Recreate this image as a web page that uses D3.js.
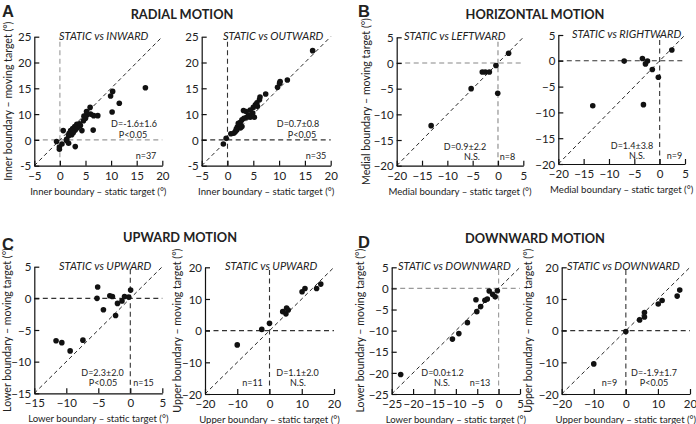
<!DOCTYPE html>
<html>
<head>
<meta charset="utf-8">
<script src="https://cdn.jsdelivr.net/npm/d3@7"></script>
<style>
  body { margin: 0; background: #fff; }
  text { font-family: Lato, "Open Sans", sans-serif; fill: #222; }
</style>
</head>
<body>
<svg id="fig" width="696" height="424"></svg>
<script>
"use strict";

// ---- values (static target vs moving target, degrees) ----
const inwardStatic = [16.7, 10.3, 9.9, 11.6, 10.2, 5.9, 5.2, 6.0, 6.6, 7.4, 5.0, 4.6, 3.8, 3.3, 4.0, 2.9, 2.5, 2.1, 3.0, 3.4,
  4.3, 6.5, 1.8, 2.3, 1.7, 0.65, -0.65, -0.1, -0.1, 0.4, 1.3, 1.7, 3.0, 2.6, 4.7, 5.2, 1.3];
const inwardMoving = [10.1, 9.4, 8.5, 7.1, 5.4, 6.3, 4.8, 5.0, 4.7, 4.7, 4.2, 3.7, 3.1, 3.0, 2.8, 2.6, 2.2, 1.8, 1.9, 2.3,
  1.8, 1.9, 1.3, 1.0, 0.8, 1.8, -0.3, -1.4, -1.8, -0.8, -0.1, -0.65, -1.3, 1.4, 4.6, 5.5, 0.1];

const outwardStatic = [16.5, 11.6, 10.2, 10.1, 9.7, 7.4, 6.3, 6.2, 5.7, 5.4, 5.0, 5.8, 4.4, 3.6, 3.1, 4.9, 4.4, 4.1, 5.2, 2.8,
  2.5, 2.3, 1.9, 1.8, 2.5, 1.5, 1.2, 0.65, -0.26, -0.8, 2.8, 3.7, 2.1, 3.2, 1.7];
const outwardMoving = [17.3, 11.6, 11.3, 11.0, 10.2, 8.9, 8.3, 7.8, 7.2, 6.8, 6.3, 6.5, 5.8, 5.5, 5.7, 5.2, 4.4, 4.8, 4.4, 3.9,
  3.4, 2.9, 2.5, 1.9, 2.3, 1.6, 1.3, 1.2, 0.3, -0.8, 2.6, 4.4, 3.2, 4.2, 2.1];

const leftwardStatic = [-13.2, -5.3, -3.1, -2.5, -1.7, -0.4, -0.05, 2.1];
const leftwardMoving = [-12.2, -5.0, -1.75, -1.75, -1.75, -0.5, -5.9, 1.9];

const rightwardStatic = [-13.2, -7.0, -3.4, -2.4, -2.8, -1.45, -0.26, -3.2, 2.4];
const rightwardMoving = [-8.7, -0.06, 0.45, -0.06, -0.6, -1.7, -3.2, -8.5, 2.1];

const upLowerStatic = [-5.1, -5.2, -3.2, -2.8, -4.2, -2.3, -2.0, -1.3, -0.9, -0.26, 0.05, -11.6, -10.7, -9.4, -7.4];
const upLowerMoving = [1.8, 0.0, 0.4, 0.3, -1.8, -2.7, -0.8, -0.4, 0.3, 0.2, 1.3, -6.7, -7.0, -8.3, -6.6];

const upUpperStatic = [-10.0, -2.4, 0.0, 4.1, 5.1, 5.3, 5.8, 10.1, 11.0, 14.6, 15.9];
const upUpperMoving = [-4.5, 0.4, 2.3, 6.0, 5.3, 7.1, 6.5, 12.3, 13.3, 13.3, 14.7];

const downLowerStatic = [-22.9, -10.8, -9.3, -7.3, -5.1, -4.2, -5.3, -3.2, -2.65, -2.2, -1.4, -0.8, -0.3];
const downLowerMoving = [-20.4, -12.0, -10.7, -8.1, -5.5, -4.3, -2.7, -2.8, -2.5, -0.6, -1.4, -2.0, -0.55];

const downUpperStatic = [-10.0, 0.0, 4.3, 5.8, 5.8, 10.1, 11.3, 16.0, 16.8];
const downUpperMoving = [-10.5, -0.3, 3.4, 4.3, 5.7, 8.4, 9.5, 10.9, 12.8];

// tick values and labels
const radialTicks = [-5, 0, 5, 10, 15, 20];
const radialYLabels = ["-5", "0", "10", "15", "20", "25"];   // as printed in the figure
const horizTicks = [-20, -15, -10, -5, 0, 5];
const upLowerTicks = [-15, -10, -5, 0, 5];
const wideTicks = [-20, -10, 0, 10, 20];
const downLowerTicks = [-25, -20, -15, -10, -5, 0, 5];

// texts
const panelLetters = ["A", "B", "C", "D"];
const panelHeaders = ["RADIAL MOTION", "HORIZONTAL MOTION", "UPWARD MOTION", "DOWNWARD MOTION"];
const inwardNotes = ["D=-1.6±1.6", "P<0.05", "n=37"];
const outwardNotes = ["D=0.7±0.8", "P<0.05", "n=35"];
const leftwardNotes = ["D=0.9±2.2", "N.S.", "n=8"];
const rightwardNotes = ["D=1.4±3.8", "N.S.", "n=9"];
const upLowerNotes = ["D=2.3±2.0", "P<0.05", "n=15"];
const upUpperNotes = ["D=1.1±2.0", "N.S.", "n=11"];
const downLowerNotes = ["D=0.0±1.2", "N.S.", "n=13"];
const downUpperNotes = ["D=-1.9±1.7", "P<0.05", "n=9"];

const svg = d3.select("#fig");
svg.append("rect").attr("width", 696).attr("height", 424).attr("fill", "#fff");

const panels = [
  { xs: inwardStatic, ys: inwardMoving, dom: [-5, 20], box: [34.3, 36.7, 162.3, 165.7], ticks: radialTicks, yLabels: radialYLabels,
    title: "STATIC vs INWARD", titleX: 59, xTitle: "Inner boundary – static target (°)", yTitle: "Inner boundary – moving target (°)",
    yTitleX: 8.5, zero: "#999", notes: inwardNotes, notePos: [[134, 127], [133, 138], [146, 159]] },
  { xs: outwardStatic, ys: outwardMoving, dom: [-5, 20], box: [201.7, 36.7, 330.7, 165.7], ticks: radialTicks, yLabels: radialYLabels,
    title: "STATIC vs OUTWARD", titleX: 223, xTitle: "Inner boundary – static target (°)", yTitle: null,
    zero: "#333", notes: outwardNotes, notePos: [[298, 127], [302, 138], [316, 159]] },
  { xs: leftwardStatic, ys: leftwardMoving, dom: [-20, 5], box: [396.7, 37.3, 523.3, 165.7], ticks: horizTicks,
    title: "STATIC vs LEFTWARD", titleX: 404, xTitle: "Medial boundary – static target (°)", yTitle: "Medial boundary – moving target (°)",
    yTitleX: 366.7, zero: "#888", notes: leftwardNotes, notePos: [[465, 150], [472, 160], [507.5, 160]] },
  { xs: rightwardStatic, ys: rightwardMoving, dom: [-20, 5], box: [558.3, 35, 685, 164], ticks: horizTicks,
    title: "STATIC vs RIGHTWARD", titleX: 572, xTitle: "Medial boundary – static target (°)", yTitle: null,
    zero: "#333", notes: rightwardNotes, notePos: [[632, 149], [637, 159], [674.5, 159]] },
  { xs: upLowerStatic, ys: upLowerMoving, dom: [-15, 5], box: [34.3, 266.7, 162.3, 393.3], ticks: upLowerTicks,
    title: "STATIC vs UPWARD", titleX: 59, xTitle: "Lower boundary – static target (°)", yTitle: "Lower boundary – moving target (°)",
    yTitleX: 7, zero: "#333", notes: upLowerNotes, notePos: [[102.5, 376], [103, 386], [143.5, 386]] },
  { xs: upUpperStatic, ys: upUpperMoving, dom: [-20, 20], box: [205, 267.3, 334, 394], ticks: wideTicks,
    title: "STATIC vs UPWARD", titleX: 225, xTitle: "Upper boundary – static target (°)", yTitle: "Upper boundary – moving target (°)",
    yTitleX: 177, zero: "#333", notes: upUpperNotes, notePos: [[297.5, 376], [298, 386], [252.5, 386]] },
  { xs: downLowerStatic, ys: downLowerMoving, dom: [-25, 5], box: [391.7, 267.3, 520, 394], ticks: downLowerTicks,
    title: "STATIC vs DOWNWARD", titleX: 398, xTitle: "Lower boundary – static target (°)", yTitle: "Lower boundary – moving target (°)",
    yTitleX: 360, zero: "#999", notes: downLowerNotes, notePos: [[442.5, 376], [442, 386], [480, 386]] },
  { xs: downUpperStatic, ys: downUpperMoving, dom: [-20, 20], box: [561.7, 267.3, 690, 394], ticks: wideTicks,
    title: "STATIC vs DOWNWARD", titleX: 567, xTitle: "Upper boundary – static target (°)", yTitle: "Upper boundary – moving target (°)",
    yTitleX: 528, zero: "#333", notes: downUpperNotes, notePos: [[654, 376], [654, 386], [609.5, 386]] }
];

function drawPanel(p) {
  const [x0, y0, x1, y1] = p.box;
  const x = d3.scaleLinear().domain(p.dom).range([x0, x1]);
  const y = d3.scaleLinear().domain(p.dom).range([y1, y0]);
  const g = svg.append("g");

  // zero reference lines
  g.append("line").attr("x1", x(0)).attr("x2", x(0)).attr("y1", y1).attr("y2", y0)
    .attr("stroke", p.zero).attr("stroke-width", 1.1).attr("stroke-dasharray", "5,3.5");
  g.append("line").attr("x1", x0).attr("x2", x1).attr("y1", y(0)).attr("y2", y(0))
    .attr("stroke", p.zero).attr("stroke-width", 1.1).attr("stroke-dasharray", "5,3.5");

  // identity line
  g.append("line").attr("x1", x(p.dom[0])).attr("y1", y(p.dom[0])).attr("x2", x(p.dom[1])).attr("y2", y(p.dom[1]))
    .attr("stroke", "#111").attr("stroke-width", 0.9).attr("stroke-dasharray", "4,3");

  // axes, ticks pointing inward
  const xa = g.append("g").attr("transform", `translate(0,${y1})`)
    .call(d3.axisBottom(x).tickValues(p.ticks).tickSizeInner(-5).tickSizeOuter(0).tickPadding(6).tickFormat(d3.format("d")));
  const yFmt = p.yLabels ? (d, i) => p.yLabels[i] : d3.format("d");
  const ya = g.append("g").attr("transform", `translate(${x0},0)`)
    .call(d3.axisLeft(y).tickValues(p.ticks).tickSizeInner(-5).tickSizeOuter(0).tickPadding(3).tickFormat(yFmt));
  [xa, ya].forEach(a => {
    a.select(".domain").attr("stroke", "#111").attr("stroke-width", 1.2);
    a.selectAll(".tick line").attr("stroke", "#111").attr("stroke-width", 1.2);
    a.selectAll(".tick text").attr("font-family", "Lato, sans-serif").attr("font-size", 11.5).attr("fill", "#222");
  });
  ya.selectAll(".tick text").attr("dy", "0.36em");
  xa.selectAll(".tick text").attr("dy", "0.68em");

  // points
  g.selectAll("circle").data(p.xs.map((v, i) => [v, p.ys[i]])).join("circle")
    .attr("cx", d => x(d[0])).attr("cy", d => y(d[1])).attr("r", 2.8).attr("fill", "#111");

  // titles
  g.append("text").attr("x", p.titleX).attr("y", y0 + 3).attr("font-size", 11).attr("font-style", "italic").text(p.title);
  g.append("text").attr("x", (x0 + x1) / 2).attr("y", y1 + 29).attr("text-anchor", "middle")
    .attr("font-size", 9.6).text(p.xTitle);
  if (p.yTitle) {
    g.append("text").attr("transform", `translate(${p.yTitleX},${(y0 + y1) / 2}) rotate(-90)`)
      .attr("text-anchor", "middle").attr("dy", "0.35em").attr("font-size", 10.6).text(p.yTitle);
  }

  // statistics
  g.selectAll(".note").data(p.notes).join("text").attr("class", "note")
    .attr("x", (d, i) => p.notePos[i][0]).attr("y", (d, i) => p.notePos[i][1])
    .attr("text-anchor", "middle").attr("font-size", 9).text(d => d);
}

panels.forEach(drawPanel);

// panel letters and headers
const letterPos = [[2, 17], [358, 17], [2, 250], [358, 248]];
const headerPos = [[182, 19], [535, 19], [180, 242], [535, 243]];
svg.selectAll(".letter").data(panelLetters).join("text").attr("class", "letter")
  .attr("x", (d, i) => letterPos[i][0]).attr("y", (d, i) => letterPos[i][1])
  .style("font-family", "'Liberation Sans', Arial, sans-serif")
  .attr("font-weight", "bold").attr("font-size", 16.5).text(d => d);
svg.selectAll(".header").data(panelHeaders).join("text").attr("class", "header")
  .attr("x", (d, i) => headerPos[i][0]).attr("y", (d, i) => headerPos[i][1])
  .attr("text-anchor", "middle").attr("font-weight", "bold").attr("font-size", 12.8).text(d => d);
</script>
</body>
</html>
